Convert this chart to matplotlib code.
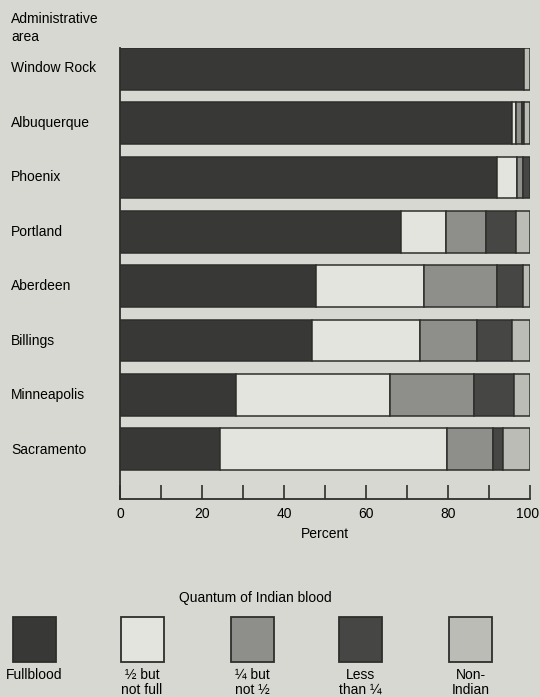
import matplotlib.pyplot as plt
import matplotlib.transforms as mtransforms
from matplotlib.patches import Rectangle

# Datos (porcentaje por área administrativa)
areas = ['Window Rock', 'Albuquerque', 'Phoenix', 'Portland',
         'Aberdeen', 'Billings', 'Minneapolis', 'Sacramento']
fullblood = [98.5, 95.5, 92.0, 68.5, 47.7, 46.9, 28.4, 24.5]
half_full = [0.0, 1.2, 4.9, 11.0, 26.5, 26.2, 37.4, 55.2]
quarter_half = [0.0, 1.3, 1.5, 9.8, 17.7, 13.9, 20.6, 11.2]
less_quarter = [0.0, 0.5, 1.6, 7.3, 6.3, 8.6, 9.7, 2.4]
non_indian = [1.5, 1.5, 0.0, 3.4, 1.8, 4.4, 3.9, 6.7]

series = [fullblood, half_full, quarter_half, less_quarter, non_indian]
legend_labels = ['Fullblood', '½ but\nnot full', '¼ but\nnot ½', 'Less\nthan ¼', 'Non-\nIndian']
xticks = [0, 20, 40, 60, 80, 100]

bg = '#d7d8d1'
colors = ['#383836', '#e4e4de', '#8e8e8a', '#464645', '#bcbcb7']
edge = '#2e2e2c'

plt.rcParams['font.family'] = ['Liberation Sans', 'DejaVu Sans']
plt.rcParams['font.size'] = 10

fig = plt.figure(figsize=(5.4, 6.97), dpi=100, facecolor=bg)
ax = fig.add_axes([120 / 540, 1 - 499 / 697, 410 / 540, 451 / 697])
ax.set_facecolor(bg)

# Barras apiladas
h = 0.77
for i, area in enumerate(areas):
    left = 0
    for vals, c in zip(series, colors):
        w = vals[i]
        if w > 0:
            ax.barh(i, w, left=left, height=h, color=c, edgecolor=edge, linewidth=1.1)
        left += w

ax.set_xlim(0, 100)
ax.set_ylim(7 + 50 / 54.5, -0.385)
ax.set_yticks([])
ax.set_xticks(xticks)
ax.set_xticks(range(10, 100, 20), minor=True)
ax.tick_params(axis='x', which='both', direction='in', length=10, width=1.2, color=edge, pad=6)
ax.tick_params(axis='x', labelsize=10)
ax.spines['top'].set_visible(False)
ax.spines['right'].set_visible(False)
for s in ['left', 'bottom']:
    ax.spines[s].set_linewidth(1.3)
    ax.spines[s].set_color(edge)
ax.set_xlabel('Percent', fontsize=10, labelpad=4)

# el "100" queda pegado al borde: lo corro un poco a la izquierda
last = ax.get_xticklabels()[-1]
last.set_transform(last.get_transform() + mtransforms.ScaledTranslation(-2.5 / 100, 0, fig.dpi_scale_trans))

# Etiquetas de las áreas
fig.text(11 / 540, 1 - 12 / 697, 'Administrative\narea', ha='left', va='top', fontsize=10, linespacing=1.35)
for i, area in enumerate(areas):
    ypix = 68 + i * 54.5
    fig.text(11 / 540, 1 - ypix / 697, area, ha='left', va='center', fontsize=10)

# Leyenda
fig.text(255 / 540, 1 - 598 / 697, 'Quantum of Indian blood', ha='center', va='center', fontsize=10)
centers = [34.5, 142, 252, 360.5, 470.5]
for cx, c, lab in zip(centers, colors, legend_labels):
    fig.patches.append(Rectangle(((cx - 21.5) / 540, 1 - 662 / 697), 43 / 540, 45 / 697,
                                 transform=fig.transFigure, facecolor=c, edgecolor=edge,
                                 linewidth=1.3))
    fig.text(cx / 540, 1 - 668 / 697, lab, ha='center', va='top', fontsize=10, linespacing=1.1)

plt.savefig('out.png', dpi=100, facecolor=bg)
